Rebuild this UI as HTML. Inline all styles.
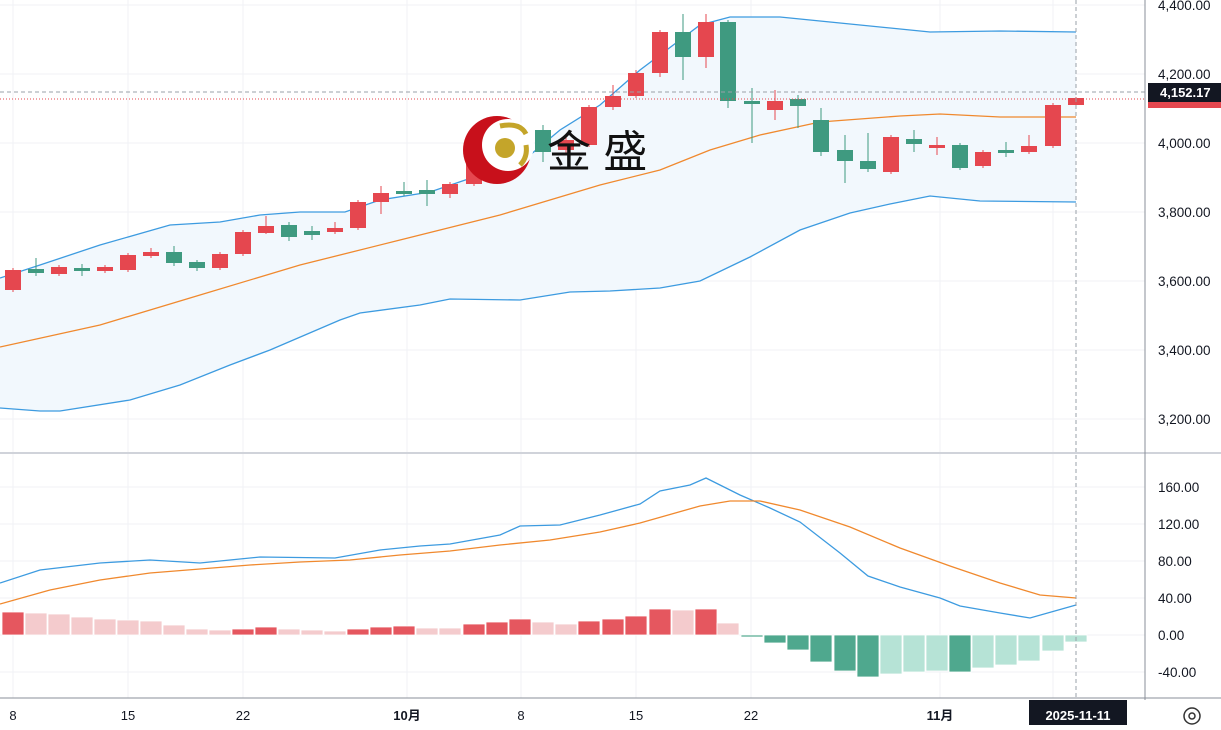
<!DOCTYPE html><html><head><meta charset="utf-8"><style>
body{margin:0;background:#fff;width:1221px;height:725px;overflow:hidden;font-family:"Liberation Sans",sans-serif}
svg text{font-family:"Liberation Sans","Noto Sans CJK SC",sans-serif}
</style></head><body>
<svg id="s" width="1221" height="725" xmlns="http://www.w3.org/2000/svg"></svg>
<script>
const s=document.getElementById('s');let h='';
[5,74,143,212,281,350,419].forEach(y=>h+=`<line x1="0" x2="1145" y1="${y}" y2="${y}" stroke="#f0f2f5"/>`);
[487,524,561,598,635,672].forEach(y=>h+=`<line x1="0" x2="1145" y1="${y}" y2="${y}" stroke="#f0f2f5"/>`);
[13,128,243,407,521,636,751,940,1053].forEach(x=>h+=`<line x1="${x}" x2="${x}" y1="0" y2="698" stroke="#f0f2f5"/>`);
const up=[[0,278],[40,265],[100,245],[170,225],[220,222],[260,215],[300,212],[345,212],[380,200],[430,192],[480,175],[530,155],[560,130],[600,105],[640,70],[700,25],[730,17],[780,17],[830,22],[930,32],[1000,31],[1076,32]];
const mid=[[0,347],[100,325],[200,295],[300,265],[400,240],[500,215],[600,185],[660,170],[710,150],[760,135],[820,122],[900,116],[940,114],[1000,117],[1076,117]];
const lo=[[0,408],[40,411],[60,411],[130,400],[180,385],[230,365],[270,350],[340,320],[360,313],[420,305],[450,299],[520,300],[570,292],[610,291],[660,288],[700,281],[750,257],[800,230],[850,213],[890,204],[930,196],[980,201],[1076,202]];
const P=a=>a.map(p=>p.join(',')).join(' ');
h+=`<polygon points="${P(up)} ${P(lo.slice().reverse())}" fill="#f2f8fd"/>`;
h+=`<polyline points="${P(up)}" fill="none" stroke="#3d9be0" stroke-width="1.3"/>`;
h+=`<polyline points="${P(lo)}" fill="none" stroke="#3d9be0" stroke-width="1.3"/>`;
h+=`<polyline points="${P(mid)}" fill="none" stroke="#f0892e" stroke-width="1.3"/>`;
const c=[[13,'r',270,290,268,292],[36,'g',269,273,258,276],[59,'r',267,274,265,276],[82,'g',268,271,264,276],[105,'r',267,271,265,273],[128,'r',255,270,253,272],[151,'r',252,256,248,258],[174,'g',252,263,246,266],[197,'g',262,268,260,271],[220,'r',254,268,252,270],[243,'r',232,254,230,256],[266,'r',226,233,216,234],[289,'g',225,237,222,241],[312,'g',231,235,226,240],[335,'r',228,232,222,234],[358,'r',202,228,200,230],[381,'r',193,202,186,214],[404,'g',191,194,182,196],[427,'g',190,194,180,206],[450,'r',184,194,182,198],[474,'r',163,184,160,186],[497,'r',140,160,135,165],[520,'r',130,148,125,150],[543,'g',130,152,125,162],[566,'r',140,150,135,155],[589,'r',107,145,105,147],[613,'r',96,107,85,110],[636,'r',73,96,70,98],[660,'r',32,73,30,77],[683,'g',32,57,14,80],[706,'r',22,57,14,68],[728,'g',22,101,20,108],[752,'g',101,104,88,143],[775,'r',101,110,90,120],[798,'g',99,106,95,128],[821,'g',120,152,108,156],[845,'g',150,161,135,183],[868,'g',161,169,133,172],[891,'r',137,172,135,174],[914,'g',139,144,130,152],[937,'r',145,148,137,155],[960,'g',145,168,143,170],[983,'r',152,166,150,168],[1006,'g',150,153,142,157],[1029,'r',146,152,135,154],[1053,'r',105,146,103,148],[1076,'r',98,105,97,106]];
c.forEach(([x,k,a,b,hi,l])=>{const col=k=='r'?'#e5474f':'#3f9a80';h+=`<line x1="${x}" x2="${x}" y1="${hi}" y2="${l}" stroke="${col}"/><rect x="${x-8}" y="${a}" width="16" height="${Math.max(b-a,2)}" fill="${col}"/>`});
h+=`<circle cx="497" cy="150" r="34" fill="#c8101b"/><circle cx="508" cy="145" r="26" fill="#fff"/><circle cx="505" cy="148" r="10" fill="#c4a52a"/><path d="M500 126 q20 -4 26 8" stroke="#c4a52a" stroke-width="5" fill="none"/><path d="M520 165 q8 -8 6 -20" stroke="#c4a52a" stroke-width="5" fill="none"/>`;
h+=`<text x="547" y="167" font-size="44" fill="#111">金 盛</text>`;
h+=`<line x1="0" x2="1221" y1="453" y2="453" stroke="#d0d3da" stroke-width="2"/>`;
const hs=[[13,612,1],[36,613,0],[59,614,0],[82,617,0],[105,619,0],[128,620,0],[151,621,0],[174,625,0],[197,629,0],[220,630,0],[243,629,1],[266,627,1],[289,629,0],[312,630,0],[335,631,0],[358,629,1],[381,627,1],[404,626,1],[427,628,0],[450,628,0],[474,624,1],[497,622,1],[520,619,1],[543,622,0],[566,624,0],[589,621,1],[613,619,1],[636,616,1],[660,609,1],[683,610,0],[706,609,1],[728,623,0],[752,637,1],[775,643,1],[798,650,1],[821,662,1],[845,671,1],[868,677,1],[891,674,0],[914,672,0],[937,671,0],[960,672,1],[983,668,0],[1006,665,0],[1029,661,0],[1053,651,0],[1076,642,0]];
hs.forEach(([x,y,d])=>{const neg=y>635;const col=neg?(d?'#4fa88e':'#b6e3d6'):(d?'#e5575f':'#f4cbcd');const t=Math.min(y,635),hh=Math.max(Math.abs(y-635),1.5);h+=`<rect x="${x-11}" y="${t}" width="22" height="${hh}" fill="${col}" stroke="#fff" stroke-width="0.8"/>`});
const mb=[[0,583],[40,570],[100,563],[150,560],[200,563],[260,557],[335,558],[380,550],[420,546],[450,544],[500,535],[520,526],[560,525],[600,515],[640,504],[660,491],[690,485],[706,478],[740,495],[770,508],[800,522],[840,553],[868,576],[900,587],[940,598],[960,606],[1000,613],[1030,618],[1076,605]];
const ms=[[0,604],[50,590],[100,580],[150,573],[200,569],[250,565],[300,562],[350,560],[400,555],[450,551],[500,545],[550,540],[600,532],[640,523],[700,506],[730,501],[760,501],[800,510],[850,527],[900,548],[950,566],[1000,583],[1040,595],[1076,598]];
h+=`<polyline points="${P(mb)}" fill="none" stroke="#3d9be0" stroke-width="1.3"/><polyline points="${P(ms)}" fill="none" stroke="#f0892e" stroke-width="1.3"/>`;
h+=`<line x1="1076" x2="1076" y1="0" y2="700" stroke="#9aa0a8" stroke-dasharray="4,3"/><line x1="0" x2="1145" y1="92" y2="92" stroke="#9aa0a8" stroke-dasharray="4,3"/><line x1="0" x2="1145" y1="99" y2="99" stroke="#e5474f" stroke-dasharray="1,2"/>`;
h+=`<line x1="1145" x2="1145" y1="0" y2="700" stroke="#8a8f98"/><line x1="0" x2="1221" y1="698" y2="698" stroke="#8a8f98"/>`;
[[5,'4,400.00'],[74,'4,200.00'],[143,'4,000.00'],[212,'3,800.00'],[281,'3,600.00'],[350,'3,400.00'],[419,'3,200.00'],[487,'160.00'],[524,'120.00'],[561,'80.00'],[598,'40.00'],[635,'0.00'],[672,'-40.00']].forEach(([y,t])=>h+=`<text x="1158" y="${y+5}" font-size="13.5" fill="#131722">${t}</text>`);
h+=`<rect x="1148" y="83" width="73" height="19" fill="#131722"/><rect x="1148" y="102" width="73" height="6" fill="#e5474f"/><text x="1160" y="97" font-size="13" font-weight="bold" fill="#fff">4,152.17</text>`;
[[13,'8'],[128,'15'],[243,'22'],[407,'10月'],[521,'8'],[636,'15'],[751,'22'],[940,'11月']].forEach(([x,t])=>h+=`<text x="${x}" y="720" font-size="13" text-anchor="middle" fill="#131722" font-weight="${t.includes('月')?'bold':'normal'}">${t}</text>`);
h+=`<rect x="1029" y="700" width="98" height="25" fill="#131722"/><text x="1078" y="720" font-size="13" font-weight="bold" text-anchor="middle" fill="#fff">2025-11-11</text>`;
h+=`<circle cx="1192" cy="716" r="8" fill="none" stroke="#333" stroke-width="1.5"/><circle cx="1192" cy="716" r="3" fill="none" stroke="#333" stroke-width="1.5"/>`;
s.innerHTML=h;
</script></body></html>
